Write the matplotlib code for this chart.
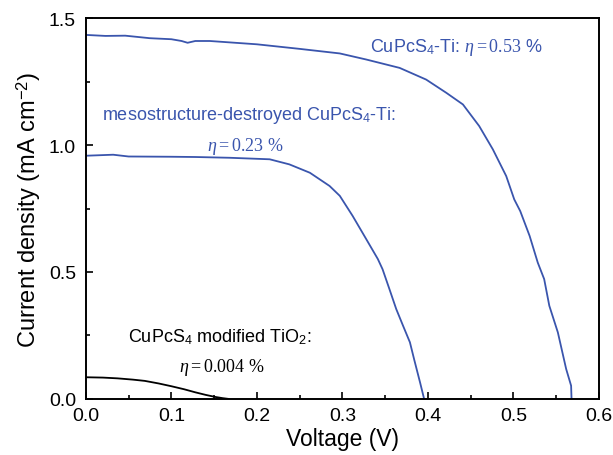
import matplotlib
matplotlib.use("Agg")
import matplotlib.pyplot as plt
import matplotlib.ticker as ticker

plt.rcParams.update({
    "font.family": ["Liberation Sans", "DejaVu Sans"],
    "mathtext.fontset": "custom",
    "mathtext.it": "Liberation Serif:italic",
    "mathtext.rm": "Liberation Serif",
    "mathtext.sf": "Liberation Sans",
    "xtick.direction": "in",
    "ytick.direction": "in",
})

BLUE = "#3a55ad"

# J-V curves (V in volts, J in mA cm^-2)
v_ti = [0, 0.023, 0.046, 0.075, 0.1, 0.112, 0.119, 0.128, 0.145, 0.2, 0.25,
        0.297, 0.328, 0.367, 0.398, 0.4215, 0.441, 0.460, 0.476, 0.4916,
        0.501, 0.508, 0.519, 0.5285, 0.536, 0.542, 0.552, 0.5617, 0.5675, 0.568]
j_ti = [1.434, 1.430, 1.431, 1.421, 1.417, 1.410, 1.403, 1.410, 1.410, 1.397,
        1.379, 1.361, 1.337, 1.304, 1.258, 1.206, 1.160, 1.075, 0.983, 0.878,
        0.786, 0.740, 0.642, 0.537, 0.472, 0.367, 0.262, 0.118, 0.052, 0.0]

v_meso = [0, 0.032, 0.05, 0.1, 0.128, 0.168, 0.215, 0.238, 0.262, 0.285, 0.297,
          0.312, 0.328, 0.3415, 0.347, 0.355, 0.363, 0.371, 0.379, 0.384,
          0.391, 0.3956]
j_meso = [0.958, 0.962, 0.955, 0.954, 0.953, 0.950, 0.944, 0.924, 0.891, 0.839,
          0.800, 0.721, 0.629, 0.551, 0.511, 0.433, 0.354, 0.288, 0.223, 0.155,
          0.063, 0.0]

v_tio2 = [0, 0.02, 0.037, 0.055, 0.069, 0.085, 0.1, 0.115, 0.128, 0.14, 0.151,
          0.16, 0.167]
j_tio2 = [0.0853, 0.084, 0.081, 0.076, 0.071, 0.061, 0.05, 0.038, 0.026, 0.016,
          0.008, 0.003, 0.0]

fig = plt.figure(figsize=(6.13, 4.56), dpi=100)
ax = fig.add_axes([0.140, 0.123, 0.837, 0.835])

ax.plot(v_ti, j_ti, color=BLUE, lw=1.3)
ax.plot(v_meso, j_meso, color=BLUE, lw=1.3)
ax.plot(v_tio2, j_tio2, color="black", lw=1.3)

ax.set_xlim(0, 0.6)
ax.set_ylim(0, 1.5)
ax.xaxis.set_major_locator(ticker.MultipleLocator(0.1))
ax.xaxis.set_minor_locator(ticker.MultipleLocator(0.05))
ax.yaxis.set_major_locator(ticker.MultipleLocator(0.5))
ax.yaxis.set_minor_locator(ticker.MultipleLocator(0.25))
ax.xaxis.set_major_formatter(ticker.FormatStrFormatter("%.1f"))
ax.yaxis.set_major_formatter(ticker.FormatStrFormatter("%.1f"))
ax.tick_params(which="major", length=5, width=1.2, labelsize=14, pad=7)
ax.tick_params(axis="x", which="major", pad=6)
ax.tick_params(which="minor", length=3, width=1.2)
for s in ax.spines.values():
    s.set_linewidth(1.4)

ax.set_xlabel("Voltage (V)", fontsize=16.5, labelpad=2)
ax.set_ylabel("Current density (mA cm$^{\\mathsf{-2}}$)", fontsize=17, labelpad=4)

ax.text(0.332, 1.39, "CuPcS$_{\\mathsf{4}}$-Ti: $\\eta = 0.53$ %", color=BLUE,
        fontsize=13, va="center", ha="left")
ax.text(0.019, 1.12, "mesostructure-destroyed CuPcS$_{\\mathsf{4}}$-Ti:", color=BLUE,
        fontsize=13, va="center", ha="left")
ax.text(0.142, 1.0, "$\\eta = 0.23$ %", color=BLUE, fontsize=13, va="center",
        ha="left", family="Liberation Serif")
ax.text(0.049, 0.247, "CuPcS$_{\\mathsf{4}}$ modified TiO$_{\\mathsf{2}}$:", color="black",
        fontsize=13, va="center", ha="left")
ax.text(0.109, 0.129, "$\\eta = 0.004$ %", color="black", fontsize=13, va="center",
        ha="left", family="Liberation Serif")

fig.savefig("out.png", dpi=100)
